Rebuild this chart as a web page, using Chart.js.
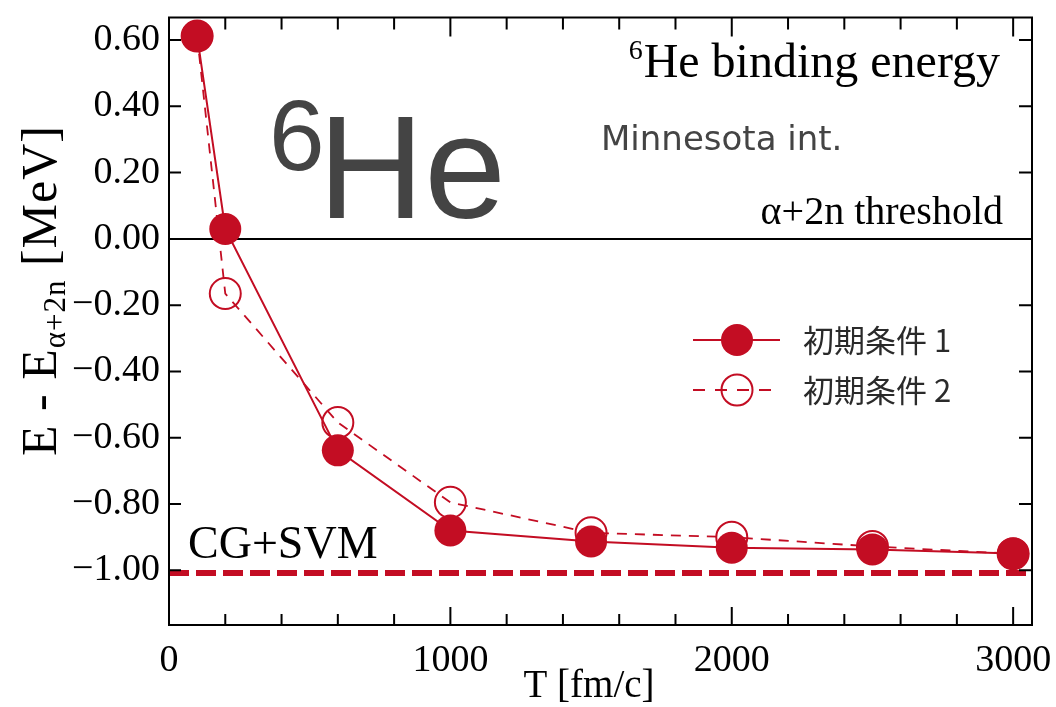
<!DOCTYPE html>
<html><head><meta charset="utf-8">
<script src="https://cdn.jsdelivr.net/npm/chart.js@4/dist/chart.umd.min.js"></script>
<style>html,body{margin:0;padding:0;background:#fff}#wrap{width:1056px;height:707px}</style>
</head><body><div id="wrap"><canvas id="c" width="1056" height="707"></canvas></div>
<script>
// ---- data ----
const timeT = [100, 200, 600, 1000, 1500, 2000, 2500, 3000];
const energy1 = [0.612, 0.030, -0.638, -0.880, -0.913, -0.932, -0.937, -0.949];
const energy2 = [0.612, -0.165, -0.554, -0.795, -0.887, -0.900, -0.928, -0.950];
const cgsvmT = [0, 3067];
const cgsvmE = [-1.008, -1.008];
const xMajorTicks = [0, 1000, 2000, 3000];
const xMinorTicks = [200, 400, 600, 800, 1200, 1400, 1600, 1800, 2200, 2400, 2600, 2800];
const yTicks = [0.6, 0.4, 0.2, 0.0, -0.2, -0.4, -0.6, -0.8, -1.0];
const xRange = [0, 3067];
const yRange = [-1.165, 0.668];
const seriesLabels = ['初期条件 1', '初期条件 2'];

const RED = '#c30d23';
const pts = (xs, ys) => xs.map((x, i) => ({x: x, y: ys[i]}));

function fmtY(v) {
  const s = Math.abs(v).toFixed(2);
  return (v < -1e-9 ? '\u2212' : '') + s;
}
function noPad(s) { s.paddingTop = 0; s.paddingBottom = 0; s.paddingLeft = 0; s.paddingRight = 0; }

const annot = {
  id: 'annot',
  beforeDatasetsDraw(chart) {
    const {ctx, chartArea: a, scales: {y}} = chart;
    const y0 = y.getPixelForValue(0);
    ctx.save();
    ctx.strokeStyle = '#000'; ctx.lineWidth = 2;
    ctx.beginPath(); ctx.moveTo(a.left, y0); ctx.lineTo(a.right, y0); ctx.stroke();
    ctx.restore();
  },
  afterDraw(chart) {
    const {ctx, chartArea: a, scales: {x, y}} = chart;
    ctx.save();
    // frame
    ctx.strokeStyle = '#000'; ctx.lineWidth = 2;
    ctx.strokeRect(a.left, a.top, a.right - a.left, a.bottom - a.top);
    // ticks (inward)
    ctx.beginPath();
    xMajorTicks.forEach(v => {
      const px = x.getPixelForValue(v);
      ctx.moveTo(px, a.bottom); ctx.lineTo(px, a.bottom - 18);
      ctx.moveTo(px, a.top); ctx.lineTo(px, a.top + 19);
    });
    xMinorTicks.forEach(v => {
      const px = x.getPixelForValue(v);
      ctx.moveTo(px, a.bottom); ctx.lineTo(px, a.bottom - 11);
      ctx.moveTo(px, a.top); ctx.lineTo(px, a.top + 12);
    });
    yTicks.forEach(v => {
      const py = y.getPixelForValue(v);
      ctx.moveTo(a.left, py); ctx.lineTo(a.left + 12, py);
      ctx.moveTo(a.right, py); ctx.lineTo(a.right - 13, py);
    });
    ctx.stroke();

    // big 6He
    ctx.fillStyle = '#444';
    ctx.textBaseline = 'alphabetic'; ctx.textAlign = 'left';
    ctx.font = '100px "Liberation Sans"';
    ctx.fillText('6', 269, 170);
    ctx.font = '147px "Liberation Sans"';
    ctx.fillText('He', 318, 218);

    // Minnesota int.
    ctx.font = '34px "DejaVu Sans"';
    ctx.fillText('Minnesota int.', 601, 150);

    // 6He binding energy (right aligned)
    ctx.fillStyle = '#000';
    ctx.font = '48px "Liberation Serif"';
    const mainTxt = 'He binding energy';
    const w1 = ctx.measureText(mainTxt).width;
    const right1 = 1000;
    ctx.fillText(mainTxt, right1 - w1, 77);
    ctx.font = '28px "Liberation Serif"';
    const w6 = ctx.measureText('6').width;
    ctx.fillText('6', right1 - w1 - w6 - 1, 59);

    // threshold
    ctx.font = '40px "Liberation Serif"';
    ctx.textAlign = 'right';
    ctx.fillText('\u03b1+2n threshold', 1003, 224);

    // CG+SVM
    ctx.textAlign = 'left';
    ctx.font = '46px "Liberation Serif"';
    ctx.fillText('CG+SVM', 188, 558);

    // x title
    ctx.textAlign = 'center';
    ctx.font = '39px "Liberation Serif"';
    ctx.fillText('T [fm/c]', 589, 697);

    // y title (rotated)
    ctx.save();
    ctx.translate(56, 456);
    ctx.rotate(-Math.PI / 2);
    ctx.textAlign = 'left';
    ctx.letterSpacing = '1px';
    let cx = 0;
    ctx.font = '50px "Liberation Serif"';
    ctx.fillText('E - E', cx, 0); cx += ctx.measureText('E - E').width;
    ctx.font = '31px "Liberation Serif"';
    ctx.fillText('\u03b1+2n', cx, 9); cx += ctx.measureText('\u03b1+2n').width;
    ctx.font = '50px "Liberation Serif"';
    ctx.fillText(' [MeV]', cx, 0);
    ctx.restore();

    // legend
    const lx0 = 693, lx1 = 780, mx = 737, tx = 803;
    const rows = [340, 390];
    ctx.strokeStyle = RED; ctx.fillStyle = RED;
    ctx.lineWidth = 2; ctx.setLineDash([]);
    ctx.beginPath(); ctx.moveTo(lx0, rows[0]); ctx.lineTo(lx1, rows[0]); ctx.stroke();
    ctx.beginPath(); ctx.arc(mx, rows[0], 16, 0, Math.PI * 2); ctx.fill();
    ctx.setLineDash([12, 10]);
    ctx.beginPath(); ctx.moveTo(lx0, rows[1]); ctx.lineTo(lx1, rows[1]); ctx.stroke();
    ctx.setLineDash([]);
    ctx.beginPath(); ctx.arc(mx, rows[1], 15.5, 0, Math.PI * 2); ctx.stroke();
    ctx.fillStyle = '#2a2a2a';
    ctx.textAlign = 'left'; ctx.textBaseline = 'middle';
    ctx.font = '31px "Noto Sans CJK JP"';
    ctx.fillText(seriesLabels[0], tx, rows[0]);
    ctx.fillText(seriesLabels[1], tx, rows[1]);
    ctx.restore();
  }
};

new Chart(document.getElementById('c'), {
  type: 'line',
  data: {
    datasets: [
      {
        label: seriesLabels[0],
        data: pts(timeT, energy1),
        borderColor: RED, backgroundColor: RED,
        borderWidth: 2, pointRadius: 16, pointBackgroundColor: RED,
        pointBorderWidth: 0, tension: 0
      },
      {
        label: seriesLabels[1],
        data: pts(timeT, energy2),
        borderColor: RED, backgroundColor: 'rgba(0,0,0,0)',
        borderWidth: 1.8, borderDash: [10, 8],
        pointRadius: 15.5, pointBorderWidth: 2,
        pointBackgroundColor: 'rgba(0,0,0,0)', pointBorderColor: RED, tension: 0
      },
      {
        label: 'CG+SVM',
        data: pts(cgsvmT, cgsvmE),
        borderColor: RED, borderWidth: 6, borderDash: [20, 7],
        pointRadius: 0, tension: 0
      }
    ]
  },
  options: {
    responsive: false, animation: false, devicePixelRatio: 1,
    layout: {padding: {top: 13, right: 24, left: 0, bottom: 0}},
    plugins: {legend: {display: false}, tooltip: {enabled: false}},
    scales: {
      x: {
        type: 'linear', min: xRange[0], max: xRange[1],
        afterBuildTicks: s => { s.ticks = xMajorTicks.map(v => ({value: v})); },
        afterFit: s => { s.height = 82; noPad(s); },
        grid: {display: false, drawTicks: false}, border: {display: false},
        ticks: {color: '#000', padding: 13, maxRotation: 0, autoSkip: false,
                font: {family: 'Liberation Serif', size: 38},
                callback: v => String(v)}
      },
      y: {
        type: 'linear', min: yRange[0], max: yRange[1],
        afterBuildTicks: s => { s.ticks = yTicks.map(v => ({value: v})); },
        afterFit: s => { s.width = 169; noPad(s); },
        grid: {display: false, drawTicks: false}, border: {display: false},
        ticks: {color: '#000', padding: 9, autoSkip: false,
                font: {family: 'Liberation Serif', size: 38},
                callback: v => fmtY(v)}
      }
    }
  },
  plugins: [annot]
});
</script>
</body></html>
